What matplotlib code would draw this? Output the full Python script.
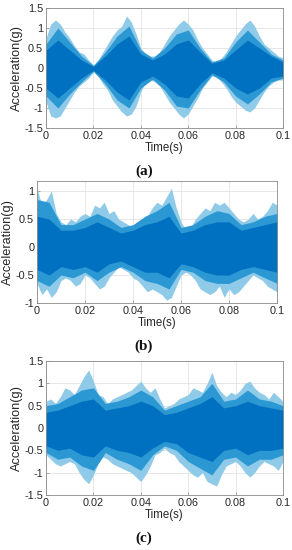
import numpy as np
import matplotlib
matplotlib.use("Agg")
import matplotlib.pyplot as plt

# ---------------- data (envelopes) ----------------
t_fine = [0.000, 0.002, 0.004, 0.006, 0.008, 0.010, 0.012, 0.014, 0.016, 0.018,
          0.020, 0.022, 0.024, 0.026, 0.028, 0.030, 0.032, 0.034, 0.036, 0.038,
          0.040, 0.042, 0.044, 0.046, 0.048, 0.050, 0.052, 0.054, 0.056, 0.058,
          0.060, 0.062, 0.064, 0.066, 0.068, 0.070, 0.072, 0.074, 0.076, 0.078,
          0.080, 0.082, 0.084, 0.086, 0.088, 0.090, 0.092, 0.094, 0.096, 0.098,
          0.100]
t_coarse = [0.000, 0.005, 0.010, 0.015, 0.020, 0.025, 0.030, 0.035, 0.040, 0.045,
            0.050, 0.055, 0.060, 0.065, 0.070, 0.075, 0.080, 0.085, 0.090, 0.095,
            0.100]

# panel (a)
a_light_up = [0.75, 1.10, 1.20, 1.10, 0.90, 0.75, 0.55, 0.40, 0.35, 0.20,
              0.08, 0.20, 0.40, 0.60, 0.80, 0.95, 1.05, 1.30, 1.15, 0.85,
              0.50, 0.35, 0.30, 0.30, 0.40, 0.60, 0.80, 0.95, 1.10, 1.20,
              1.10, 0.95, 0.70, 0.50, 0.35, 0.20, 0.15, 0.25, 0.40, 0.60,
              0.80, 0.95, 1.10, 1.20, 1.05, 0.80, 0.60, 0.50, 0.40, 0.30,
              0.25]
a_light_lo = [-0.85, -1.20, -1.25, -1.20, -1.00, -0.80, -0.60, -0.45, -0.35, -0.25,
              -0.10, -0.20, -0.40, -0.55, -0.80, -0.95, -1.10, -1.20, -1.15, -0.95,
              -0.60, -0.35, -0.30, -0.35, -0.45, -0.65, -0.85, -1.00, -1.15, -1.25,
              -1.15, -0.95, -0.75, -0.50, -0.35, -0.20, -0.20, -0.35, -0.50, -0.70,
              -0.85, -0.95, -1.05, -1.10, -1.00, -0.80, -0.60, -0.45, -0.35, -0.30,
              -0.30]
a_mid_up = [0.60, 1.00, 0.65, 0.30, 0.06, 0.40, 0.80, 1.05, 0.45, 0.25,
            0.50, 0.85, 0.95, 0.50, 0.15, 0.25, 0.65, 0.95, 0.65, 0.35, 0.20]
a_mid_lo = [-0.70, -1.00, -0.65, -0.35, -0.08, -0.40, -0.80, -1.00, -0.50, -0.28,
            -0.55, -0.95, -1.00, -0.55, -0.17, -0.35, -0.70, -0.90, -0.65, -0.35, -0.25]
a_dark_up = [0.45, 0.70, 0.45, 0.20, 0.04, 0.30, 0.60, 0.80, 0.35, 0.20,
             0.35, 0.60, 0.70, 0.40, 0.12, 0.20, 0.45, 0.70, 0.50, 0.30, 0.15]
a_dark_lo = [-0.50, -0.75, -0.50, -0.25, -0.06, -0.30, -0.60, -0.80, -0.35, -0.20,
             -0.40, -0.70, -0.75, -0.40, -0.12, -0.25, -0.50, -0.65, -0.50, -0.25, -0.20]

# panel (b)
b_light_up = [1.05, 0.75, 0.85, 1.00, 0.60, 0.45, 0.40, 0.50, 0.45, 0.55,
              0.60, 0.55, 0.75, 0.70, 0.80, 0.60, 0.65, 0.50, 0.45, 0.40,
              0.35, 0.45, 0.50, 0.55, 0.70, 0.80, 0.75, 0.90, 1.05, 0.70,
              0.45, 0.30, 0.35, 0.50, 0.60, 0.70, 0.65, 0.80, 0.75, 0.80,
              0.70, 0.60, 0.50, 0.45, 0.50, 0.60, 0.50, 0.55, 0.65, 0.80,
              0.75]
b_light_lo = [-0.65, -0.85, -0.75, -0.90, -0.80, -0.60, -0.55, -0.60, -0.70, -0.65,
              -0.50, -0.55, -0.65, -0.75, -0.70, -0.55, -0.45, -0.35, -0.40, -0.45,
              -0.55, -0.60, -0.70, -0.80, -0.75, -0.80, -0.85, -0.95, -0.90, -0.70,
              -0.50, -0.45, -0.50, -0.60, -0.75, -0.80, -0.85, -0.80, -0.70, -0.90,
              -0.75, -0.85, -0.80, -0.70, -0.60, -0.50, -0.55, -0.60, -0.70, -0.75,
              -0.80]
b_mid_up = [0.85, 0.80, 0.40, 0.40, 0.50, 0.60, 0.50, 0.35, 0.40, 0.55,
            0.65, 0.80, 0.35, 0.40, 0.55, 0.65, 0.60, 0.40, 0.45, 0.55, 0.60]
b_mid_lo = [-0.60, -0.70, -0.50, -0.55, -0.45, -0.60, -0.45, -0.35, -0.45, -0.60,
            -0.65, -0.75, -0.40, -0.45, -0.60, -0.65, -0.65, -0.55, -0.45, -0.55, -0.65]
b_dark_up = [0.55, 0.50, 0.30, 0.30, 0.35, 0.45, 0.35, 0.25, 0.30, 0.40,
             0.45, 0.55, 0.25, 0.30, 0.40, 0.45, 0.45, 0.30, 0.35, 0.40, 0.45]
b_dark_lo = [-0.40, -0.50, -0.35, -0.40, -0.35, -0.45, -0.30, -0.25, -0.35, -0.45,
             -0.45, -0.55, -0.30, -0.35, -0.45, -0.50, -0.50, -0.40, -0.35, -0.40, -0.45]

# panel (c)
c_light_up = [0.60, 0.65, 0.55, 0.70, 0.90, 0.85, 0.75, 0.95, 1.15, 1.30,
              1.05, 0.75, 0.70, 0.55, 0.65, 0.70, 0.75, 0.80, 0.85, 0.95,
              1.05, 0.90, 0.80, 0.90, 0.65, 0.45, 0.50, 0.55, 0.65, 0.70,
              0.75, 0.90, 0.85, 0.80, 1.00, 1.25, 0.95, 0.80, 0.70, 0.80,
              0.75, 0.85, 1.00, 1.05, 0.90, 0.80, 0.75, 0.65, 0.80, 0.70,
              0.60]
c_light_lo = [-0.60, -0.70, -0.80, -0.85, -0.80, -0.75, -0.80, -1.00, -1.15, -1.25,
              -1.05, -0.80, -0.65, -0.70, -0.80, -0.85, -0.90, -0.95, -1.00, -1.10,
              -1.20, -1.05, -0.85, -0.60, -0.55, -0.45, -0.55, -0.60, -0.75, -0.85,
              -0.95, -1.05, -1.10, -1.00, -1.20, -1.25, -1.30, -1.05, -0.85, -0.80,
              -0.75, -0.85, -1.00, -1.10, -1.00, -0.85, -0.75, -0.80, -0.85, -0.95,
              -0.75]
c_mid_up = [0.50, 0.55, 0.70, 0.85, 0.90, 0.55, 0.60, 0.70, 0.85, 0.70,
            0.40, 0.50, 0.60, 0.70, 1.00, 0.60, 0.65, 0.85, 0.65, 0.60, 0.50]
c_mid_lo = [-0.55, -0.70, -0.65, -0.85, -0.95, -0.55, -0.70, -0.80, -0.95, -0.60,
            -0.40, -0.50, -0.75, -0.90, -1.05, -0.70, -0.65, -0.85, -0.70, -0.70, -0.60]
c_dark_up = [0.35, 0.40, 0.50, 0.60, 0.65, 0.40, 0.45, 0.50, 0.60, 0.50,
             0.30, 0.35, 0.45, 0.55, 0.70, 0.45, 0.50, 0.60, 0.50, 0.45, 0.40]
c_dark_lo = [-0.40, -0.50, -0.45, -0.60, -0.65, -0.40, -0.50, -0.55, -0.65, -0.45,
             -0.30, -0.35, -0.55, -0.65, -0.75, -0.50, -0.45, -0.60, -0.50, -0.50, -0.45]

x_ticks = [0, 0.02, 0.04, 0.06, 0.08, 0.1]
x_ticklabels = ["0", "0.02", "0.04", "0.06", "0.08", "0.1"]
y_ticks_ac = [-1.5, -1, -0.5, 0, 0.5, 1, 1.5]
y_ticklabels_ac = ["-1.5", "-1", "-0.5", "0", "0.5", "1", "1.5"]
y_ticks_b = [-1, -0.5, 0, 0.5, 1]
y_ticklabels_b = ["-1", "-0.5", "0", "0.5", "1"]
panel_labels = ["(a)", "(b)", "(c)"]

# ---------------- styling ----------------
LIGHT = "#8fcbe8"
MID = "#2b98d4"
DARK = "#0070c0"
TXT = "#262626"

plt.rcParams["font.family"] = ["Liberation Sans", "DejaVu Sans"]

fig = plt.figure(figsize=(2.92, 5.50), dpi=100)
W, H = 292.0, 550.0

def make_ax(l, r, top, bot):
    return fig.add_axes([l / W, 1 - bot / H, (r - l) / W, (bot - top) / H])

axes_specs = [
    dict(box=(46, 283, 8, 128), ylim=(-1.5, 1.5), yt=y_ticks_ac, ytl=y_ticklabels_ac,
         env=(a_light_up, a_light_lo, a_mid_up, a_mid_lo, a_dark_up, a_dark_lo)),
    dict(box=(37, 277, 181, 303), ylim=(-1.0, 1.18), yt=y_ticks_b, ytl=y_ticklabels_b,
         env=(b_light_up, b_light_lo, b_mid_up, b_mid_lo, b_dark_up, b_dark_lo)),
    dict(box=(46, 283, 361, 495), ylim=(-1.5, 1.5), yt=y_ticks_ac, ytl=y_ticklabels_ac,
         env=(c_light_up, c_light_lo, c_mid_up, c_mid_lo, c_dark_up, c_dark_lo)),
]
label_pos = [(144, 171), (144, 346), (144, 538)]

for spec, lab, (lx, ly) in zip(axes_specs, panel_labels, label_pos):
    ax = make_ax(*spec["box"])
    lu, ll, mu, ml, du, dl = spec["env"]
    ax.fill_between(t_fine, ll, lu, color=LIGHT, lw=0)
    ax.fill_between(t_coarse, ml, mu, color=MID, lw=0)
    ax.fill_between(t_coarse, dl, du, color=DARK, lw=0)
    ax.set_xlim(0, 0.1)
    ax.set_ylim(*spec["ylim"])
    ax.set_xticks(x_ticks)
    ax.set_xticklabels(x_ticklabels)
    ax.set_yticks(spec["yt"])
    ax.set_yticklabels(spec["ytl"])
    ax.grid(True, color="#e3e3e3", lw=0.6)
    ax.set_axisbelow(True)
    for s in ax.spines.values():
        s.set_color("#8a8a8a")
        s.set_linewidth(0.6)
    ax.tick_params(direction="in", length=2, width=0.5, colors="#8a8a8a",
                   labelcolor=TXT, labelsize=7.8, pad=2)
    ax.set_xlabel("Time(s)", fontsize=8.3, color=TXT, labelpad=1)
    ax.set_ylabel("Acceleration(g)", fontsize=9.2, color=TXT, labelpad=1)
    fig.text(lx / W, 1 - ly / H, lab, ha="center", va="center",
             fontsize=11, family=["Liberation Serif", "DejaVu Serif"],
             fontweight="bold", color="#111111")

fig.savefig("out.png", dpi=100)
